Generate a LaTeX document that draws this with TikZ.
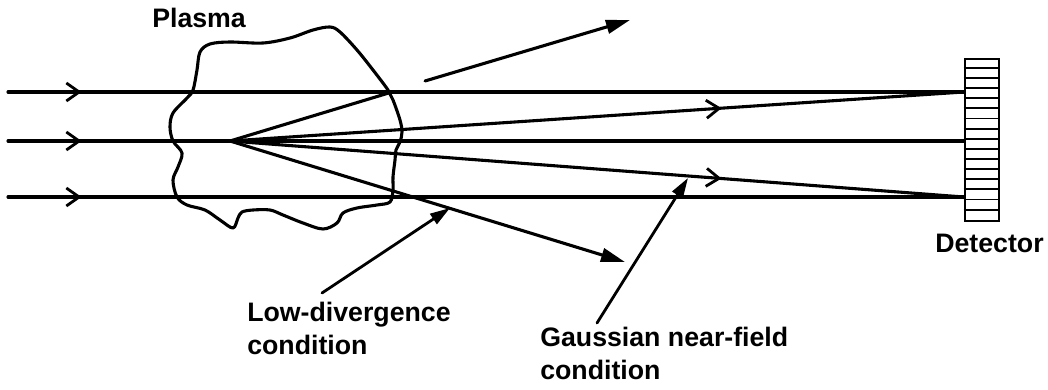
\documentclass[tikz,border=0pt]{standalone}
\usepackage{fontspec}
\setmainfont{Liberation Sans}
\usetikzlibrary{arrows.meta,decorations.markings}

\begin{document}
\begin{tikzpicture}[x=0.025cm,y=-0.025cm]
\tikzset{
  beamline/.style={draw=black,line width=2.2pt,line cap=round},
  chevron/.style={postaction={decorate},decoration={markings,mark=at position #1 with {\arrow{Straight Barb[length=3.2mm,width=4.5mm,line width=2pt]}}}},
  scattered/.style={beamline,-{Triangle[length=6mm,width=3.4mm]}},
  pointer/.style={draw=black,line width=2pt,line cap=round,-{Triangle[length=5mm,width=3mm]}},
  labeltext/.style={font=\bfseries\fontsize{19}{23.5}\selectfont,inner sep=0pt},
  plasmaedge/.style={draw=black,line width=2.2pt,line join=round},
  detbox/.style={draw=black,line width=1.8pt,minimum width=0.85cm,minimum height=4.05cm,inner sep=0pt},
  stripe/.style={draw=black,line width=1.3pt}
}
\useasboundingbox (0,0) rectangle (1048,389);
% plasma outline
\draw[plasmaedge] plot[smooth cycle,tension=0.55] coordinates {
  (200,52) (210,44) (230,42) (263,43) (290,38) (313,30) (330,27) (340,32)
  (357,50) (373,70) (388,90) (393,100) (400,120) (402,132) (400,142)
  (396,150) (395,160) (393,177) (393,190) (390,202) (377,205) (357,208)
  (343,213) (337,223) (323,229) (303,223) (283,215) (270,210) (253,210)
  (242,212) (238,218) (233,228) (220,220) (205,210) (187,205) (177,197)
  (173,180) (178,167) (182,153) (173,141) (170,127) (173,113) (187,98)
  (193,90) (197,70)};
% detector
\node[detbox] (det) at (982,140) {};
\foreach \k in {1,...,15}
  \draw[stripe] ([yshift=-\k*0.253125cm]det.north west) -- ([yshift=-\k*0.253125cm]det.north east);
% incoming beams
\coordinate (inT) at (8,92);
\coordinate (inM) at (8,141);
\coordinate (inB) at (8,197);
\coordinate (focus) at (230,141);
\draw[beamline,chevron=0.077] (inT) -- (inT -| det.west);
\draw[beamline,chevron=0.077] (inM) -- (inM -| det.west);
\draw[beamline,chevron=0.077] (inB) -- (inB -| det.west);
% rays from the focus
\draw[beamline,chevron=0.67] (focus) -- (inT -| det.west);
\draw[beamline,chevron=0.67] (focus) -- (inB -| det.west);
\coordinate (gapA) at (392,92);
\coordinate (gapB) at (425,81);
\coordinate (tipUp) at (630,20);
\coordinate (tipDown) at (625,262);
\draw[beamline] (focus) -- (gapA);
\draw[scattered] (gapB) -- (tipUp);
\draw[scattered] (focus) -- (tipDown);
% labels
\node[labeltext,anchor=base west] (plasma) at (152,27) {Plasma};
\node[labeltext,anchor=base west] (detlabel) at (935,252) {Detector};
\node[labeltext,anchor=north west,align=left] (lowdiv) at (247,302) {Low-divergence\\condition};
\node[labeltext,anchor=north west,align=left] (gauss) at (540,327) {Gaussian near-field\\condition};
\coordinate (ldtail) at (322,293);
\coordinate (ldtip) at (450,208);
\coordinate (gntail) at (597,323);
\coordinate (gntip) at (688,178);
\draw[pointer] (ldtail) -- (ldtip);
\draw[pointer] (gntail) -- (gntip);
\end{tikzpicture}
\end{document}
